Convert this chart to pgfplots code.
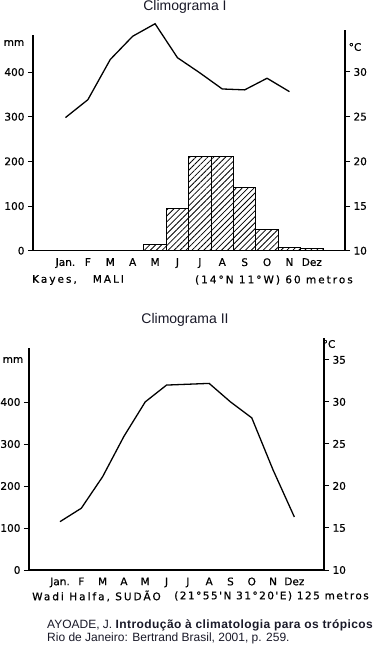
\documentclass[border=0pt]{standalone}
\usepackage{pgfplots}
\pgfplotsset{compat=1.18}
\usepackage{fontspec}
\setmainfont{Liberation Sans}
\newfontfamily\chartfont[FakeBold=0.6]{DejaVu Sans}
\newfontfamily\spaced[LetterSpace=19,FakeBold=0.6]{DejaVu Sans}
\newfontfamily\spacedb[LetterSpace=14,FakeBold=0.6]{DejaVu Sans}
\usetikzlibrary{patterns,patterns.meta}
\definecolor{titlecol}{RGB}{25,25,40}
\begin{document}
\begin{tikzpicture}
\path[use as bounding box] (0,0) rectangle (375pt,-650pt);
\pgfplotsset{
  clim/.style={scale only axis, clip=false,
    tick label style={font=\chartfont\fontsize{10.5}{11}\selectfont, black},
    /pgf/number format/assume math mode=true,
    major tick length=5pt, tick align=outside,
    axis line style={line width=1.1pt, black},
    every tick/.style={black, line width=1pt},
    anchor=south west},
}
% ---------------- Climograma I ----------------
\node[font=\fontsize{14}{16}\selectfont, text=titlecol] at (185pt,-7pt) {Climograma I};
\begin{axis}[clim, at={(33pt,-250.7pt)}, width=312pt, height=215.7pt,
  xmin=-0.45, xmax=13.48, ymin=0, ymax=483,
  axis x line*=bottom, axis y line*=left,
  ytick={0,100,200,300,400},
  xtick={1,...,12}, xticklabels={Jan.,F,M,A,M,J,J,A,S,O,N,Dez},
  x tick style={draw=none}, xticklabel style={yshift=1pt}]
\addplot[ybar, bar width=1, draw=black, line width=1pt,
  pattern={Lines[angle=45,distance=4.2pt,line width=0.8pt]}]
  coordinates {(5,14) (6,95) (7,212) (8,212) (9,141) (10,48) (11,8) (12,5)};
\end{axis}
\begin{axis}[clim, at={(33pt,-250.7pt)}, width=312pt, height=220.7pt,
  xmin=-0.45, xmax=13.48, ymin=10, ymax=34.7,
  axis x line=none, axis y line*=right,
  ytick={10,15,20,25,30}]
\addplot[black, line width=1.3pt] coordinates {
  (1,24.9) (2,26.9) (3,31.4) (4,34.0) (5,35.4) (6,31.6) (7,29.9) (8,28.1) (9,28.0) (10,29.3) (11,27.8)};
\end{axis}
\node[font=\chartfont\fontsize{10.5}{11}\selectfont] at (14pt,-43pt) {mm};
\node[font=\chartfont\fontsize{10.5}{11}\selectfont] at (355pt,-47pt) {°C};
\node[anchor=west, inner sep=0pt, font=\spaced\fontsize{10.5}{11}\selectfont] at (32pt,-280pt) {Kayes,\ \ \ MALI};
\node[anchor=east, inner sep=0pt, font=\spaced\fontsize{10.5}{11}\selectfont] at (353pt,-280pt) {(14°N 11°W) 60 metros};
% ---------------- Climograma II ----------------
\node[font=\fontsize{14}{16}\selectfont, text=titlecol] at (185pt,-320pt) {Climograma II};
\begin{axis}[clim, at={(29pt,-570pt)}, width=295pt, height=222pt,
  xmin=-0.455, xmax=13.39, ymin=0, ymax=528.6,
  axis x line*=bottom, axis y line*=left,
  ytick={0,100,200,300,400},
  xtick={1,...,12}, xticklabels={Jan.,F,M,A,M,J,J,A,S,O,N,Dez},
  x tick style={draw=none}, xticklabel style={yshift=1pt},
  minor xtick={0.5,1.5,...,12.5}, minor tick length=3pt,
  minor x tick style={black, line width=0.8pt}]
\end{axis}
\begin{axis}[clim, at={(29pt,-570pt)}, width=295pt, height=232pt,
  xmin=-0.455, xmax=13.39, ymin=10, ymax=37.6,
  axis x line=none, axis y line*=right,
  ytick={10,15,20,25,30,35}]
\addplot[black, line width=1.3pt] coordinates {
  (1,15.75) (2,17.35) (3,21.1) (4,25.9) (5,30.0) (6,32.0) (7,32.1) (8,32.2) (9,30.0) (10,28.1) (11,21.9) (12,16.3)};
\end{axis}
\node[font=\chartfont\fontsize{10.5}{11}\selectfont] at (13pt,-360pt) {mm};
\node[font=\chartfont\fontsize{10.5}{11}\selectfont] at (329pt,-344pt) {°C};
\node[anchor=west, inner sep=0pt, font=\spaced\fontsize{10.5}{11}\selectfont] at (32pt,-596pt) {Wadi Halfa, SUDÃO};
\node[anchor=east, inner sep=0pt, font=\spacedb\fontsize{10.5}{11}\selectfont] at (369pt,-596pt) {(21°55'N 31°20'E) 125 metros};
% ---------------- citation ----------------
\node[anchor=west, inner sep=0pt, font=\fontsize{12}{13}\selectfont, text=titlecol] at (47pt,-625pt) {AYOADE, J. \textbf{\addfontfeatures{LetterSpace=3.5}Introdução à climatologia para os trópicos}};
\node[anchor=west, inner sep=0pt, font=\fontsize{12}{13}\selectfont, text=titlecol] at (47pt,-638pt) {Rio de Janeiro: Bertrand Brasil, 2001, p. 259.};
\end{tikzpicture}
\end{document}
